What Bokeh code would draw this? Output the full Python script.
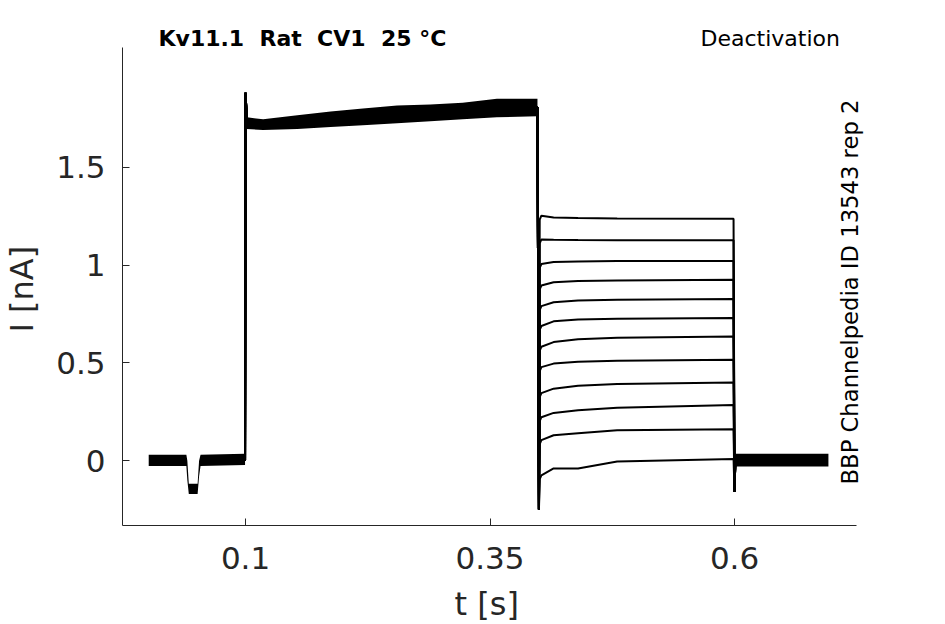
import math
from bokeh.plotting import figure
from bokeh.models import Label, FixedTicker, Range1d, CustomJSTickFormatter, Title
from bokeh.embed import file_html
from bokeh.resources import INLINE

# ---------------- data ----------------
# holding period (noise band envelope), t in s, I in nA
hold_t  = [0.001, 0.0395, 0.0405, 0.042, 0.051, 0.0525, 0.054, 0.0995]
hold_hi = [0.030, 0.030, 0.000, -0.118, -0.118, 0.000, 0.030, 0.035]
hold_lo = [-0.028, -0.028, -0.100, -0.170, -0.170, -0.080, -0.028, -0.022]

# activation step (band of overlapping sweeps)
act_t  = [0.1015, 0.118, 0.153, 0.187, 0.220, 0.255, 0.289, 0.322, 0.357, 0.3985]
act_hi = [1.755, 1.745, 1.765, 1.785, 1.800, 1.815, 1.820, 1.830, 1.850, 1.850]
act_lo = [1.695, 1.690, 1.695, 1.705, 1.715, 1.725, 1.735, 1.745, 1.755, 1.760]

# after return to holding
post_t  = [0.6008, 0.696]
post_hi = [0.035, 0.035]
post_lo = [-0.030, -0.030]

# step times and transient peaks
t_on, t_off, t_end = 0.1, 0.4, 0.6
peak_on = 1.88
peak_off = -0.25
peak_end = -0.16

# tail currents (deactivation), one row per sweep
tail_t = [0.4025, 0.415, 0.440, 0.480, 0.5990]
tails = [
    [1.252, 1.243, 1.240, 1.238, 1.236],
    [1.131, 1.129, 1.128, 1.127, 1.127],
    [1.005, 1.015, 1.018, 1.020, 1.021],
    [0.895, 0.912, 0.918, 0.921, 0.924],
    [0.790, 0.810, 0.818, 0.822, 0.826],
    [0.688, 0.712, 0.721, 0.725, 0.729],
    [0.582, 0.606, 0.620, 0.628, 0.635],
    [0.478, 0.496, 0.505, 0.510, 0.516],
    [0.345, 0.368, 0.383, 0.392, 0.400],
    [0.222, 0.244, 0.258, 0.270, 0.284],
    [0.105, 0.130, 0.140, 0.155, 0.160],
    [-0.075, -0.040, -0.040, -0.005, 0.008],
]

x_ticks = [0.1, 0.35, 0.6]
y_ticks = [0, 0.5, 1, 1.5]
x_bounds = (-0.0258, 0.7247)
y_bounds = (-0.3316, 2.1122)

title_text = "Kv11.1\u00a0 Rat\u00a0 CV1\u00a0 25 °C"
protocol_text = "Deactivation"
source_text = "BBP Channelpedia ID 13543 rep 2"
x_label = "t [s]"
y_label = "I [nA]"

# ---------------- figure ----------------
AX = "#262626"
FONT = "DejaVu Sans"
W, H = 930, 624
LEFT, BOTTOM, TOP, RIGHT = 122, 98, 4, 30
px_x = (0.6 - 0.1) / 489.0     # s per pixel
px_y = 1.0 / 196.0             # nA per pixel
x_end = x_bounds[0] + (W - LEFT - RIGHT) * px_x
y_end = y_bounds[0] + (H - BOTTOM - TOP) * px_y

p = figure(width=W, height=H, output_backend="svg", toolbar_location=None,
           x_range=Range1d(x_bounds[0], x_end), y_range=Range1d(y_bounds[0], y_end),
           min_border_left=LEFT, min_border_right=RIGHT, min_border_top=TOP,
           min_border_bottom=BOTTOM)
p.outline_line_color = None
p.grid.visible = False
p.background_fill_color = "white"
p.border_fill_color = "white"

fmt = CustomJSTickFormatter(code="return tick.toString();")
for ax, ticks, b in ((p.xaxis, x_ticks, x_bounds), (p.yaxis, y_ticks, y_bounds)):
    ax.ticker = FixedTicker(ticks=ticks)
    ax.formatter = fmt
    ax.bounds = b
    ax.axis_line_color = AX
    ax.axis_line_width = 1
    ax.major_tick_line_color = AX
    ax.major_tick_in = 7
    ax.major_tick_out = 0
    ax.minor_tick_line_color = None
    ax.major_label_text_font = FONT
    ax.major_label_text_font_size = "31px"
    ax.major_label_text_color = AX
p.yaxis.major_label_standoff = 17
p.xaxis.major_label_standoff = 21

# small spacers between the tick labels and the axis titles
p.add_layout(Title(text=" ", standoff=0, text_font=FONT, text_font_size="10px",
                   text_color="white"), "below")
p.add_layout(Title(text=" ", standoff=0, text_font=FONT, text_font_size="10px",
                   text_color="white"), "left")

# axis titles placed along the axes' own extent
p.add_layout(Title(text=x_label, align="left", offset=332, standoff=0,
                   vertical_align="top", text_font=FONT, text_font_size="32px",
                   text_font_style="normal", text_color=AX), "below")
p.add_layout(Title(text=y_label, align="left", offset=193, standoff=0,
                   vertical_align="bottom", text_font=FONT, text_font_size="32px",
                   text_font_style="normal", text_color=AX), "left")

# bands
p.varea(x=hold_t, y1=hold_lo, y2=hold_hi, fill_color="black")
p.varea(x=act_t, y1=act_lo, y2=act_hi, fill_color="black")
p.varea(x=post_t, y1=post_lo, y2=post_hi, fill_color="black")

# sweeps
act_mid = [(a + b) / 2 for a, b in zip(act_lo, act_hi)]
xs, ys = [], []
for tail in tails:
    x = [hold_t[-1], t_on, act_t[0]] + act_t[1:] + [t_off, t_off + 0.0008] + tail_t + [t_end, t_end + 0.0008]
    y = [0.0, peak_on, act_mid[0]] + act_mid[1:] + [peak_off, tail[0] - 0.02] + tail + [peak_end, 0.0]
    xs.append(x)
    ys.append(y)
p.multi_line(xs=xs, ys=ys, line_color="black", line_width=2)

# texts (positions in pixels from the frame's bottom-left corner)
p.add_layout(Label(x=36, y=487.5, x_units="screen", y_units="screen", text=title_text,
                   text_font=FONT, text_font_size="22px", text_font_style="bold",
                   text_color="black", text_baseline="alphabetic"))
p.add_layout(Label(x=578, y=487.5, x_units="screen", y_units="screen", text=protocol_text,
                   text_font=FONT, text_font_size="22px", text_color="black",
                   text_baseline="alphabetic"))
p.add_layout(Label(x=727, y=41, x_units="screen", y_units="screen", text=source_text,
                   text_font=FONT, text_font_size="22.7px", text_color="black",
                   text_baseline="alphabetic", text_align="left", angle=math.pi / 2))

open("out.html", "w").write(file_html(p, INLINE))
